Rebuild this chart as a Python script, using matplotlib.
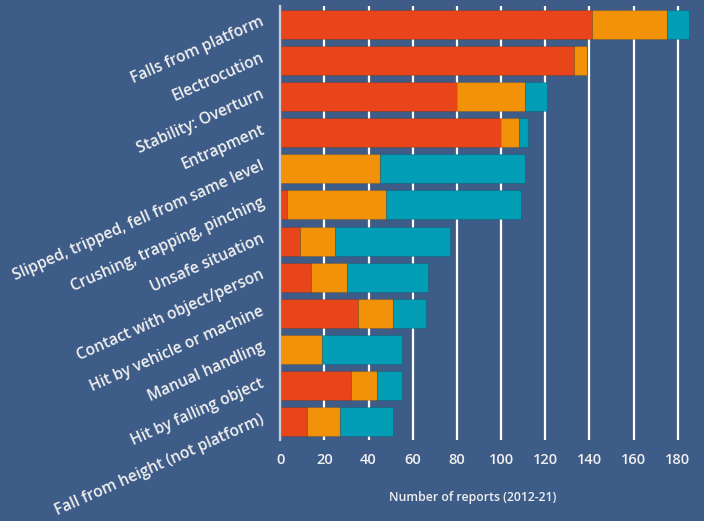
import numpy as np
import matplotlib
matplotlib.use("Agg")
import matplotlib.pyplot as plt
import matplotlib.transforms as mtransforms

BG = "#3e5c88"
RED = "#e8461a"
ORANGE = "#f29208"
TEAL = "#019eb5"
TXT = "#f0f0f0"

categories = [
    "Falls from platform",
    "Electrocution",
    "Stability: Overturn",
    "Entrapment",
    "Slipped, tripped, fell from same level",
    "Crushing, trapping, pinching",
    "Unsafe situation",
    "Contact with object/person",
    "Hit by vehicle or machine",
    "Manual handling",
    "Hit by falling object",
    "Fall from height (not platform)",
]
red_vals = [141, 133, 80, 100, 0, 3, 9, 14, 35, 0, 32, 12]
orange_vals = [34, 6, 31, 8, 45, 45, 16, 16, 16, 19, 12, 15]
teal_vals = [10, 0, 10, 4, 66, 61, 52, 37, 15, 36, 11, 24]
x_ticks = [0, 20, 40, 60, 80, 100, 120, 140, 160, 180]

plt.rcParams['font.family'] = ['Open Sans', 'DejaVu Sans']

fig = plt.figure(figsize=(7.04, 5.21), dpi=100)
fig.patch.set_facecolor(BG)
ax = fig.add_axes([280.3 / 704, 81 / 521, 419.5 / 704, 434 / 521])
ax.set_facecolor(BG)

y = np.arange(len(categories))
red = np.array(red_vals)
orange = np.array(orange_vals)
teal = np.array(teal_vals)
edge = (0, 0, 0, 0.12)
ax.barh(y, red, height=0.8, color=RED, edgecolor=edge, linewidth=0.8, zorder=2)
ax.barh(y, orange, left=red, height=0.8, color=ORANGE, edgecolor=edge, linewidth=0.8, zorder=2)
ax.barh(y, teal, left=red + orange, height=0.8, color=TEAL, edgecolor=edge, linewidth=0.8, zorder=2)

ax.set_xlim(0, 190)
ax.set_ylim(len(categories) - 0.5, -0.5)
ax.set_xticks(x_ticks)
ax.set_xticklabels([str(t) for t in x_ticks])
ax.set_yticks(y)
ax.set_yticklabels(categories, rotation=24, ha='right', va='center',
                   rotation_mode='anchor')

ax.grid(axis='x', color='white', linewidth=1.6, zorder=0)
ax.set_axisbelow(True)
for s in ['top', 'right', 'bottom']:
    ax.spines[s].set_visible(False)
ax.spines['left'].set_color('#c9ced8')
ax.spines['left'].set_linewidth(1.6)

ax.tick_params(axis='x', length=0, pad=9, labelsize=10.5, labelcolor=TXT)
ax.tick_params(axis='y', length=0, pad=12, labelsize=11.2, labelcolor=TXT)
for lbl in ax.get_xticklabels() + ax.get_yticklabels():
    lbl.set_fontweight('semibold')

# nudge the slanted labels up a little
shift = mtransforms.ScaledTranslation(0, 3 / 100, fig.dpi_scale_trans)
for lbl in ax.get_yticklabels():
    lbl.set_transform(lbl.get_transform() + shift)

ax.set_xlabel("Number of reports (2012-21)", color=TXT, fontsize=8.8,
              fontweight='semibold')
ax.xaxis.set_label_coords((473 - 280.3) / 419.5, -(491 - 440) / 434)

fig.savefig("out.png", dpi=100, facecolor=BG)
